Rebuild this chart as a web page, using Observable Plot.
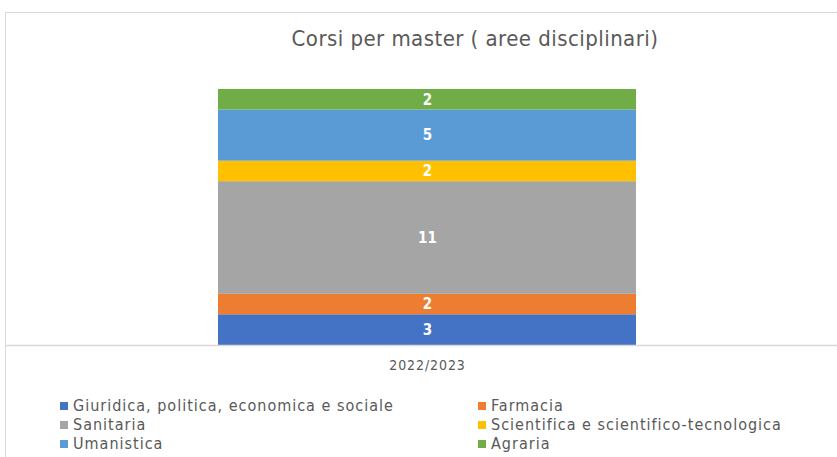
<!DOCTYPE html>
<html><head><meta charset="utf-8">
<script src="https://cdn.jsdelivr.net/npm/d3@7"></script>
<script src="https://cdn.jsdelivr.net/npm/@observablehq/plot@0.6"></script>
<style>
html,body{margin:0;padding:0;background:#fff;}
body{width:837px;height:457px;position:relative;overflow:hidden;font-family:"DejaVu Sans Condensed","DejaVu Sans",sans-serif;}
#frame{position:absolute;left:5px;top:12px;width:900px;height:500px;border-left:1px solid #d9d9d9;border-top:1px solid #d9d9d9;}
#title{position:absolute;left:0;width:950px;top:26px;text-align:center;font-size:22px;letter-spacing:0.45px;color:#595959;}
#chart{position:absolute;left:0;top:0;}
#chart g[aria-label="x-axis tick label"] text{letter-spacing:0.9px;}
#legend{position:absolute;left:0;top:396px;font-size:16px;letter-spacing:1px;color:#595959;}
.li{position:absolute;white-space:nowrap;line-height:19px;}
.sw{display:inline-block;width:8px;height:8px;margin-right:5px;vertical-align:middle;position:relative;top:-1px;}
</style></head>
<body>
<div id="frame"></div>
<div id="chart"></div>
<div id="title">Corsi per master ( aree disciplinari)</div>
<div id="legend"></div>
<script>
const year = "2022/2023";
const categories = ["Giuridica, politica, economica e sociale","Farmacia","Sanitaria","Scientifica e scientifico-tecnologica","Umanistica","Agraria"];
const values = [3, 2, 11, 2, 5, 2];
const colors = ["#4472C4","#ED7D31","#A5A5A5","#FFC000","#5B9BD5","#70AD47"];

const data = categories.map((c, i) => ({year, cat: c, value: values[i]}));

const plot = Plot.plot({
  width: 837, height: 457,
  marginLeft: 5, marginRight: 0, marginTop: 89, marginBottom: 112,
  style: {fontFamily: '"DejaVu Sans Condensed","DejaVu Sans",sans-serif', background: "transparent"},
  x: {domain: [year], padding: 0.3312, align: 0.5145, label: null},
  y: {domain: [0, 25], axis: null},
  color: {domain: categories, range: colors},
  marks: [
    Plot.barY(data, {x: "year", y: "value", fill: "cat"}),
    Plot.text(data, Plot.stackY({x: "year", y: "value", text: d => String(d.value), fill: "white", fontWeight: "bold", fontSize: 15})),
    Plot.ruleY([0], {stroke: "#d9d9d9", strokeWidth: 1.5}),
    Plot.axisX({tickSize: 0, tickPadding: 15, fontSize: 14, color: "#595959", label: null})
  ]
});
document.getElementById("chart").appendChild(plot);

const legend = document.getElementById("legend");
categories.forEach((c, i) => {
  const el = document.createElement("div");
  el.className = "li";
  el.style.left = (i % 2 === 0 ? 60 : 478) + "px";
  el.style.top = (Math.floor(i / 2) * 19) + "px";
  el.innerHTML = `<span class="sw" style="background:${colors[i]}"></span>${c}`;
  legend.appendChild(el);
});
</script>
</body></html>
